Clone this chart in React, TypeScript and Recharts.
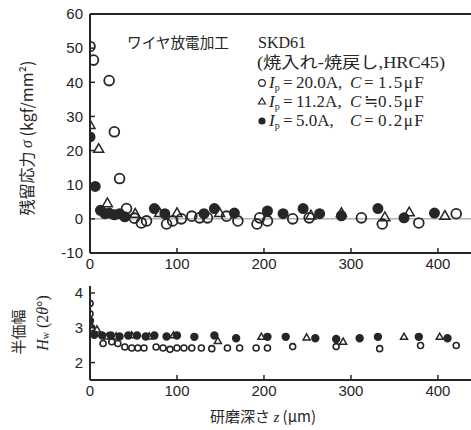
import React from 'react';
import { ScatterChart, Scatter, XAxis, YAxis, ReferenceLine } from 'recharts';

// ---- data ----
const xTicks = [0, 100, 200, 300, 400];
const stressTicks = [-10, 0, 10, 20, 30, 40, 50, 60];
const widthTicks = [2, 3, 4];

// residual stress (kgf/mm2) vs depth (um)
const stressOpen = [
  [0, 50.5], [4, 46.5], [22, 40.5], [28, 25.5], [34, 11.8], [42, 3], [51, 0.2], [59, -1.2], [65, -0.6],
  [88, -1.5], [95, -0.6], [105, 0], [117, 0.8], [126, 0.3], [135, 0.3], [157, 0.8], [170, -0.6], [192, -1.5],
  [195, 0.3], [204, -0.6], [233, 0], [252, 0.3], [312, 0.3], [336, -1.5], [378, -1.2], [421, 1.5],
];
const stressTri = [
  [0, 27.5], [10, 20.5], [20, 4.6], [52, 1.5], [80, 1.7], [100, 1.7], [149, 1.7], [254, 1], [289, 1.7],
  [339, 0.5], [367, 1.9], [408, 0.9],
];
const stressFilled = [
  [0, 24], [6, 9.5], [12, 2.5], [17, 1.5], [22, 1.7], [28, 1.2], [34, 1.5], [40, 0.6], [74, 3], [86, 1.5],
  [131, 1.5], [143, 3], [166, 1.7], [204, 2.3], [222, 1.5], [245, 3], [264, 1.5], [289, 0.9], [331, 3],
  [361, 0.3], [396, 1.7],
];

// half-value width (2θ deg) vs depth (um)
const widthOpen = [
  [0, 3.7], [0, 3.4], [2, 3.0], [15, 2.55], [25, 2.6], [32, 2.55], [40, 2.45], [48, 2.42], [55, 2.42],
  [62, 2.42], [76, 2.45], [84, 2.42], [92, 2.38], [100, 2.42], [108, 2.42], [117, 2.42], [128, 2.42],
  [140, 2.4], [158, 2.42], [172, 2.42], [191, 2.42], [204, 2.42], [233, 2.46], [283, 2.46], [333, 2.4],
  [380, 2.49], [421, 2.49],
];
const widthFilled = [
  [0, 3.2], [5, 2.8], [14, 2.78], [24, 2.78], [34, 2.75], [44, 2.78], [54, 2.78], [64, 2.75], [74, 2.78],
  [88, 2.75], [100, 2.78], [120, 2.74], [143, 2.78], [168, 2.7], [204, 2.74], [225, 2.74], [259, 2.7],
  [283, 2.68], [310, 2.7], [331, 2.74], [378, 2.74], [411, 2.7],
];
const widthTri = [
  [0, 3.1], [8, 2.95], [20, 2.75], [30, 2.75], [48, 2.78], [68, 2.75], [96, 2.78], [147, 2.62], [197, 2.74],
  [249, 2.72], [291, 2.6], [361, 2.74], [402, 2.74],
];

const legendRows = [
  { current: '20.0A,', cap: '1.5μF', eq: '=' },
  { current: '11.2A,', cap: '0.5μF', eq: '≒' },
  { current: '5.0A,', cap: '0.2μF', eq: '=' },
];

const toPts = (arr: number[][]) => arr.map(([x, y]) => ({ x, y }));

const INK = '#262626';

const makeCircle = (r: number, filled: boolean, sw = 1.6) => (p: any) => (
  <circle cx={p.cx} cy={p.cy} r={r} fill={filled ? INK : '#fff'} fillOpacity={filled ? 1 : 0} stroke={INK} strokeWidth={sw} />
);
const makeTri = (s: number) => (p: any) => {
  const h = s * 0.87;
  const { cx, cy } = p;
  return (
    <polygon
      points={`${cx},${cy - h * 0.6} ${cx - s / 2},${cy + h * 0.4} ${cx + s / 2},${cy + h * 0.4}`}
      fill="none"
      stroke={INK}
      strokeWidth={1.5}
    />
  );
};

const tickStyle = { fontSize: 15, fill: INK, fontFamily: 'Liberation Sans, Arial, sans-serif' };
const serif = 'Liberation Serif, "Noto Sans CJK JP", serif';
const jp = '"Noto Sans CJK JP", sans-serif';

const LegendRow = ({ y, i }: { y: number; i: number }) => {
  const r = legendRows[i];
  return (
    <text y={y} fontSize={17} fontFamily={serif} fill={INK}>
      <tspan x={269} fontStyle="italic">I</tspan>
      <tspan fontSize={10} dy={3}>p</tspan>
      <tspan x={283} dy={-3}>=</tspan>
      <tspan x={296}>{r.current}</tspan>
      <tspan x={350} fontStyle="italic">C</tspan>
      <tspan x={364} fontFamily="Liberation Serif, DejaVu Serif, serif">{r.eq}</tspan>
      <tspan x={378} letterSpacing={1.5}>{r.cap}</tspan>
    </text>
  );
};

const Overlay = () => (
  <svg width={471} height={430} style={{ position: 'absolute', left: 0, top: 0, pointerEvents: 'none' }}>
    <text x={127} y={48} fontSize={15} fontFamily={jp} fill={INK} textLength={102} lengthAdjust="spacingAndGlyphs">ワイヤ放電加工</text>
    <text x={258} y={48} fontSize={16} fontFamily={serif} fill={INK}>SKD61</text>
    <text x={257} y={68} fontSize={16} fontFamily={serif} fill={INK} textLength={188} lengthAdjust="spacingAndGlyphs">(焼入れ-焼戻し,HRC45)</text>
    <circle cx={262} cy={83} r={3.3} fill="none" stroke={INK} strokeWidth={1.2} />
    <LegendRow y={88} i={0} />
    <polygon points="262,98 258.5,104 265.5,104" fill="none" stroke={INK} strokeWidth={1.2} />
    <LegendRow y={107} i={1} />
    <circle cx={262} cy={121} r={3.6} fill={INK} />
    <LegendRow y={126} i={2} />

    <text
      x={26}
      y={138}
      transform="rotate(-90 26 138)"
      textAnchor="middle"
      dominantBaseline="central"
      fontSize={16}
      fontFamily={jp}
      fill={INK}
    >
      残留応力 <tspan fontStyle="italic" fontFamily={serif}>σ</tspan> (kgf/mm²)
    </text>

    <text x={17} y={332} transform="rotate(-90 17 332)" textAnchor="middle" dominantBaseline="central" fontSize={15} fontFamily={jp} fill={INK}>
      半価幅
    </text>
    <text x={42} y={323} transform="rotate(-90 42 323)" textAnchor="middle" dominantBaseline="central" fontSize={16} fontFamily={serif} fill={INK}>
      <tspan fontStyle="italic">H</tspan><tspan fontSize={10} dy={3}>w</tspan><tspan dy={-3}> (2</tspan><tspan fontStyle="italic">θ</tspan><tspan>°)</tspan>
    </text>

    <text x={210} y={422} fontSize={15} fontFamily={jp} fill={INK}>
      研磨深さ <tspan fontStyle="italic" fontFamily={serif}>z</tspan>  (μm)
    </text>
  </svg>
);

export default function App() {
  return (
    <div style={{ position: 'absolute', left: 0, top: 0, width: 471, height: 430, background: '#fff', overflow: 'hidden' }}>
      <div style={{ position: 'absolute', left: 0, top: 0 }}>
        <ScatterChart width={471} height={280} margin={{ top: 14, right: 0, bottom: 0, left: 30 }}>
          <XAxis
            type="number"
            dataKey="x"
            domain={[0, 438]}
            ticks={xTicks}
            height={27}
            tickSize={-5}
            tickMargin={10}
            tick={tickStyle}
            axisLine={{ stroke: INK, strokeWidth: 2 }}
            tickLine={{ stroke: INK, strokeWidth: 1.5 }}
            allowDataOverflow
          />
          <YAxis
            type="number"
            dataKey="y"
            domain={[-10, 60]}
            ticks={stressTicks}
            width={60}
            tickSize={-5}
            tickMargin={12}
            tick={tickStyle}
            axisLine={{ stroke: INK, strokeWidth: 2 }}
            tickLine={{ stroke: INK, strokeWidth: 1.5 }}
            allowDataOverflow
          />
          <ReferenceLine y={0} stroke="#8a8a8a" strokeWidth={1} />
          <ReferenceLine y={60} stroke={INK} strokeWidth={2} />
          <Scatter data={toPts(stressOpen)} shape={makeCircle(4.9, false, 1.8)} isAnimationActive={false} />
          <Scatter data={toPts(stressTri)} shape={makeTri(10)} isAnimationActive={false} />
          <Scatter data={toPts(stressFilled)} shape={makeCircle(4.7, true)} isAnimationActive={false} />
        </ScatterChart>
      </div>
      <div style={{ position: 'absolute', left: 0, top: 270 }}>
        <ScatterChart width={471} height={130} margin={{ top: 16, right: 0, bottom: 0, left: 30 }}>
          <XAxis
            type="number"
            dataKey="x"
            domain={[0, 438]}
            ticks={xTicks}
            height={20}
            tickSize={-5}
            tickMargin={10}
            tick={tickStyle}
            axisLine={{ stroke: INK, strokeWidth: 2 }}
            tickLine={{ stroke: INK, strokeWidth: 1.5 }}
            allowDataOverflow
          />
          <YAxis
            type="number"
            dataKey="y"
            domain={[1.5, 4.2]}
            ticks={widthTicks}
            width={60}
            tickSize={-5}
            tickMargin={12}
            tick={tickStyle}
            axisLine={{ stroke: INK, strokeWidth: 2 }}
            tickLine={{ stroke: INK, strokeWidth: 1.5 }}
            allowDataOverflow
          />
          <Scatter data={toPts(widthOpen)} shape={makeCircle(3, false)} isAnimationActive={false} />
          <Scatter data={toPts(widthTri)} shape={makeTri(7)} isAnimationActive={false} />
          <Scatter data={toPts(widthFilled)} shape={makeCircle(3.4, true)} isAnimationActive={false} />
        </ScatterChart>
      </div>
      <Overlay />
    </div>
  );
}
